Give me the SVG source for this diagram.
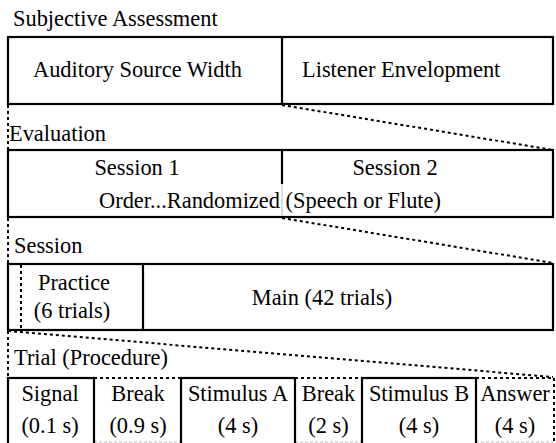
<svg xmlns="http://www.w3.org/2000/svg" width="556" height="443" viewBox="0 0 556 443">
<style>
text{font-size:22.4px;fill:#000}
.c{text-anchor:middle}
.box{fill:#fff;stroke:#000;stroke-width:2.2}
.ln{stroke:#000;stroke-width:2.2;fill:none}
.dot{stroke:#000;stroke-width:2;stroke-dasharray:3 3;fill:none}
.thin{stroke:#bbb;stroke-width:1;fill:none}
</style>
<rect width="556" height="443" fill="#fff"/>
<g font-family="'Liberation Serif', 'DejaVu Serif', serif">
<g id="connectors">
<line class="dot" x1="8" y1="105" x2="8" y2="150"/>
<line class="dot" x1="282" y1="105" x2="553" y2="150"/>
<line class="dot" x1="8" y1="218" x2="8" y2="264"/>
<line class="dot" x1="282" y1="218" x2="553" y2="263"/>
<line class="dot" x1="8" y1="331" x2="8" y2="377"/>
<line class="dot" x1="8" y1="331" x2="553" y2="377"/>
</g>
<g id="subjective">
<text x="13" y="26">Subjective Assessment</text>
<rect class="box" x="8" y="37" width="545" height="67"/>
<line class="ln" x1="282" y1="37" x2="282" y2="104"/>
<text x="33" y="77">Auditory Source Width</text>
<text x="302" y="77">Listener Envelopment</text>
</g>
<g id="evaluation">
<text x="9" y="141">Evaluation</text>
<rect class="box" x="8" y="150" width="545" height="67"/>
<line class="ln" x1="282" y1="150" x2="282" y2="184"/>
<line class="thin" x1="282" y1="184" x2="282" y2="216"/>
<text class="c" x="137" y="175">Session 1</text>
<text class="c" x="395" y="175">Session 2</text>
<text class="c" x="270" y="208">Order...Randomized (Speech or Flute)</text>
</g>
<g id="session">
<text x="14" y="253">Session</text>
<rect class="box" x="8" y="264" width="545" height="66"/>
<line class="ln" x1="143" y1="264" x2="143" y2="330"/>
<line class="dot" x1="21" y1="265" x2="21" y2="329"/>
<text class="c" x="74" y="290">Practice</text>
<text class="c" x="72" y="318">(6 trials)</text>
<text class="c" x="322" y="305">Main (42 trials)</text>
</g>
<g id="trial">
<text x="14" y="365">Trial (Procedure)</text>
<g id="break1">
<path class="dot" d="M94 378 H181"/>
<path class="thin" d="M94 442 H181" stroke-dasharray="3 2"/>
<text class="c" x="138" y="401">Break</text>
<text class="c" x="138" y="433">(0.9 s)</text>
</g>
<g id="break2">
<path class="dot" d="M295 378 H362"/>
<path class="thin" d="M295 442 H362" stroke-dasharray="3 2"/>
<text class="c" x="328.5" y="401">Break</text>
<text class="c" x="328.5" y="433">(2 s)</text>
</g>
<g id="answer">
<path class="dot" d="M476 378 H554 V443"/>
<path class="thin" d="M476 442 H554" stroke-dasharray="3 2"/>
<text class="c" x="515" y="401">Answer</text>
<text class="c" x="515" y="433">(4 s)</text>
</g>
<g id="signal">
<rect class="box" x="8" y="378" width="86" height="70" fill="none"/>
<text class="c" x="50" y="401">Signal</text>
<text class="c" x="50" y="433">(0.1 s)</text>
</g>
<g id="stimA">
<rect class="box" x="181" y="378" width="114" height="70" fill="none"/>
<text class="c" x="238" y="401">Stimulus A</text>
<text class="c" x="238" y="433">(4 s)</text>
</g>
<g id="stimB">
<rect class="box" x="362" y="378" width="114" height="70" fill="none"/>
<text class="c" x="419" y="401">Stimulus B</text>
<text class="c" x="419" y="433">(4 s)</text>
</g>
</g>
</g>
</svg>
